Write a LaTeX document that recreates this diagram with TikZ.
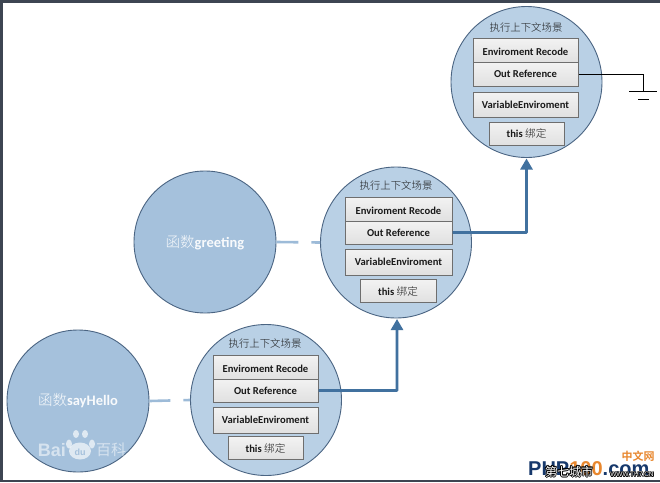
\documentclass[tikz,border=0pt]{standalone}
\usepackage{fontspec}
\usepackage[copies]{contour}
\usetikzlibrary{arrows.meta,shadings}
\setmainfont{Carlito}
\newfontfamily\cjk{Noto Sans CJK SC}[BoldFont={* Bold}]
\newfontfamily\cjklight{Noto Sans CJK SC Light}[BoldFont={Noto Sans CJK SC Light}]
\newfontfamily\heros{Liberation Sans}
\newcommand{\lowcell}[1]{\raisebox{-2pt}[\height][\depth]{#1}}
\definecolor{barcol}{HTML}{3D4552}
\definecolor{funcfill}{HTML}{A5C1DC}
\definecolor{ctxfill}{HTML}{B9D0E5}
\definecolor{ringcol}{HTML}{4A6482}
\definecolor{flowcol}{HTML}{41719F}
\definecolor{dashcol}{HTML}{9DBBD8}
\definecolor{boxedge}{HTML}{6E6E6E}
\definecolor{phpblue}{HTML}{16386B}
\definecolor{phporange}{HTML}{E8872E}
\tikzset{
  x=1pt,y=-1pt,
  funcnode/.style={circle,draw=ringcol,line width=0.9pt,fill=funcfill,minimum size=142pt,inner sep=0pt},
  funclabel/.style={text=white!92!funcfill,inner sep=0pt},
  ctxnode/.style={circle,draw=ringcol,line width=0.9pt,fill=ctxfill,minimum size=151pt,inner sep=0pt},
  ctxtitle/.style={font=\fontsize{10.4}{11}\cjklight,text=black!90,inner sep=0pt},
  cellbox/.style={draw=boxedge,line width=1pt,top color=white!95!black,bottom color=white!88!black,
    minimum width=105pt,inner sep=0pt,font=\fontsize{10.6}{11}\selectfont\bfseries,text=black!90},
  thisbox/.style={cellbox,minimum width=75pt,minimum height=22.5pt},
  flow/.style={draw=flowcol,line width=2.6pt,-{Triangle[length=11pt,width=12pt]},rounded corners=0.5pt},
  linkdash/.style={draw=dashcol,line width=2.6pt},
  earth/.style={draw=black,line width=0.8pt}
}
\begin{document}
\begin{tikzpicture}
\useasboundingbox (0,0) rectangle (660,482);
\fill[white] (0,0) rectangle (660,482);
\fill[barcol] (0,0) rectangle (660,3);
\fill[barcol] (0,0) rectangle (3,482);
\fill[barcol] (0,480) rectangle (660,482);

% circles
\node[funcnode] (fa) at (78,401) {};
\node[funcnode] (fb) at (205,242) {};
\node[ctxnode] (ca) at (266,400) {};
\node[ctxnode] (cb) at (396,242.5) {};
\node[ctxnode] (cc) at (526.5,82) {};

% function labels
\node[funclabel] (la) at (78,401) {\fontsize{14.5}{15}\cjklight 函数\selectfont\rmfamily\bfseries sayHello};
\node[funclabel] (lb) at (205,243) {\fontsize{14.5}{15}\cjklight 函数\selectfont\rmfamily\bfseries greeting};

% dashed links
\draw[linkdash,dash pattern=on 21pt off 13pt] (fa.east) -- (ca.west);
\draw[linkdash,dash pattern=on 22pt off 13pt] (fb.east) -- (cb.west);

% bottom context
\node[ctxtitle] (ta) at (265,344) {执行上下文场景};
\node[cellbox,minimum height=24pt] (ra) at (265.5,367) {\lowcell{Enviroment Recode}};
\node[cellbox,minimum height=23pt] (oa) at (265.5,390.5) {Out Reference};
\node[cellbox,minimum height=26pt] (va) at (265.5,420) {VariableEnviroment};
\node[thisbox] (ha) at (265.5,448) {this {\cjklight 绑定}};

% middle context
\node[ctxtitle] (tb) at (396,186) {执行上下文场景};
\node[cellbox,minimum width=107pt,minimum height=24pt] (rb) at (398.5,209) {\lowcell{Enviroment Recode}};
\node[cellbox,minimum width=107pt,minimum height=23pt] (ob) at (398.5,232.5) {Out Reference};
\node[cellbox,minimum width=107pt,minimum height=26pt] (vb) at (398.5,262) {VariableEnviroment};
\node[thisbox,minimum width=76pt] (hb) at (398,291) {this {\cjklight 绑定}};

% top context
\node[ctxtitle] (tc) at (526,28) {执行上下文场景};
\node[cellbox,minimum height=24pt] (rc) at (525.5,50) {\lowcell{Enviroment Recode}};
\node[cellbox,minimum height=24pt] (oc) at (525.5,74) {Out Reference};
\node[cellbox,minimum height=25pt] (vc) at (525.5,104.5) {VariableEnviroment};
\node[thisbox,minimum height=23pt] (hc) at (526.5,133.5) {this {\cjklight 绑定}};

% flows
\coordinate (ja) at (397,319);
\coordinate (jb) at (526.5,158.5);
\draw[flow] (oa.east) -| (ja);
\draw[flow] (ob.east) -| (jb);

% earth symbol
\coordinate (gt) at (643,91);
\coordinate (gl) at (629,91);
\coordinate (gr) at (657,91);
\coordinate (sl) at (638,99);
\coordinate (sr) at (649,99);
\draw[earth] (oc.east) -| (gt);
\draw[earth] (gl) -- (gr);
\draw[earth] (sl) -- (sr);

% Baidu watermark
\node[text=white,opacity=0.55,inner sep=0pt,font=\fontsize{18}{18}\heros\bfseries] (bai) at (52,450) {Bai};
\begin{scope}[white,opacity=0.65]
  \fill (80,451) ellipse (11pt and 8.5pt);
  \fill (69,444) ellipse (3pt and 4.5pt);
  \fill (76,434) ellipse (3pt and 4pt);
  \fill (85,434) ellipse (3pt and 4pt);
  \fill (92,444) ellipse (3pt and 4.5pt);
\end{scope}
\node[text=funcfill,inner sep=0pt,font=\fontsize{9}{9}\heros\bfseries] (du) at (80,452) {du};
\node[text=white,opacity=0.55,inner sep=0pt,font=\fontsize{15}{15}\cjk] (bk) at (111,450) {百科};

% corner watermarks
\node[text=phporange,inner sep=0pt,font=\fontsize{11}{11}\cjk\bfseries] (cn) at (638,456) {中文网};
\node[text=phpblue,inner sep=0pt,anchor=west,font=\fontsize{20}{20}\heros\bfseries] (ph) at (528,469) {PHP\textcolor{phporange}{100}.com};
\contourlength{0.8pt}
\contournumber{8}
\node[text=white,inner sep=0pt,font=\fontsize{12}{12}\cjk] (qi) at (569,472) {\contour{black}{第七城市}};
\node[text=white,inner sep=0pt,font=\fontsize{6.5}{7}\heros] (ww) at (632,475) {\contour{black}{WWW.TH7.CN}};
\end{tikzpicture}
\end{document}
